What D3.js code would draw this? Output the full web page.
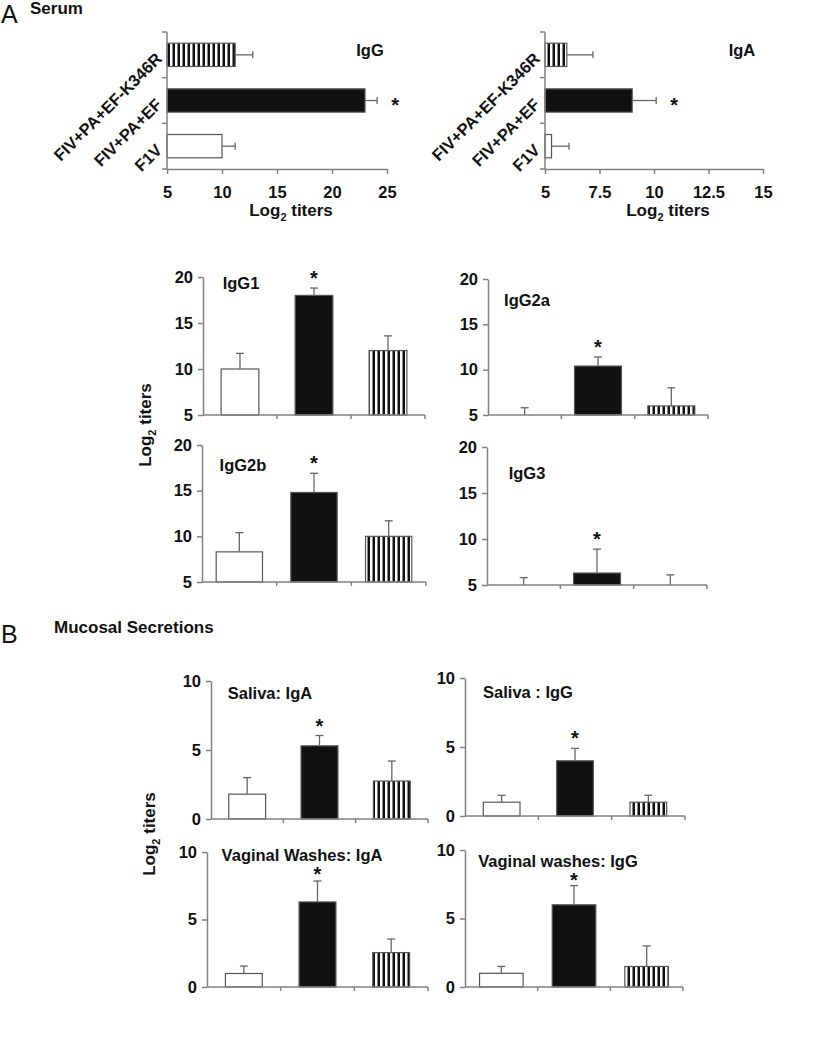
<!DOCTYPE html>
<html>
<head>
<meta charset="utf-8">
<script src="https://cdn.jsdelivr.net/npm/d3@7/dist/d3.min.js"></script>
<style>
  body { margin: 0; background: #fff; }
  svg { display: block; }
  text { font-family: "Liberation Sans", Arial, sans-serif; fill: #111; }
</style>
</head>
<body>
<svg id="chart" width="819" height="1050"></svg>
<script>
// ---------- DATA ----------
const groups = ["F1V", "FIV+PA+EF", "FIV+PA+EF-K346R"];
const fills = ["white", "black", "stripe"];

// Serum (horizontal bars), Log2 titers
const serumIgG_mean = [10, 23, 11.2];
const serumIgG_err  = [1.2, 1.1, 1.6];
const serumIgA_mean = [5.3, 9.0, 6.0];
const serumIgA_err  = [0.8, 1.1, 1.2];
const serumIgG_ticks = [5, 10, 15, 20, 25];
const serumIgA_ticks = [5, 7.5, 10, 12.5, 15];

// Serum IgG subclasses
const igG1_mean  = [10, 18, 12];
const igG1_err   = [1.7, 0.8, 1.6];
const igG2a_mean = [5, 10.4, 6.0];
const igG2a_err  = [0.8, 1.0, 2.0];
const igG2b_mean = [8.3, 14.8, 10];
const igG2b_err  = [2.1, 2.1, 1.7];
const igG3_mean  = [5, 6.3, 5];
const igG3_err   = [0.8, 2.6, 1.1];
const subclass_ticks = [5, 10, 15, 20];

// Mucosal secretions
const salivaIgA_mean = [1.8, 5.3, 2.75];
const salivaIgA_err  = [1.2, 0.75, 1.45];
const salivaIgG_mean = [1.0, 4.0, 1.0];
const salivaIgG_err  = [0.5, 0.9, 0.5];
const vagIgA_mean = [1.0, 6.3, 2.55];
const vagIgA_err  = [0.55, 1.55, 1.0];
const vagIgG_mean = [1.0, 6.0, 1.5];
const vagIgG_err  = [0.5, 1.4, 1.5];
const mucosal_ticks = [0, 5, 10];

const significant = [false, true, false];

// ---------- DRAW ----------
const svg = d3.select("#chart");
const AXIS = "#808080";
const defs = svg.append("defs");
const pat = defs.append("pattern").attr("id", "stripes").attr("patternUnits", "userSpaceOnUse")
  .attr("width", 5).attr("height", 10);
pat.append("rect").attr("width", 5).attr("height", 10).attr("fill", "white");
pat.append("rect").attr("x", 2.5).attr("width", 2.6).attr("height", 10).attr("fill", "#111");

function fillOf(k) { return k === "white" ? "white" : k === "black" ? "#111" : "url(#stripes)"; }

function T(g) { return g.append("text").style("font-weight", "bold"); }

function log2Label(g, x, y, rotate) {
  const t = T(g).attr("text-anchor", "middle").attr("font-size", 17)
    .attr("transform", `translate(${x},${y})` + (rotate ? " rotate(-90)" : ""));
  t.append("tspan").text("Log");
  t.append("tspan").attr("font-size", 11).attr("dy", 5).text("2");
  t.append("tspan").attr("dy", -5).text(" titers");
}

function styleAxis(a) {
  a.selectAll("path, line").attr("stroke", AXIS).attr("stroke-width", 1.5);
  a.selectAll("text").attr("font-size", 16.5).attr("fill", "#111")
    .attr("font-family", '"Liberation Sans", Arial, sans-serif').style("font-weight", "bold");
}

// Horizontal serum panels
function hPanel(cfg) {
  const { mean, err, ticks, x0, x1, y0, y1, title, tx, ty } = cfg;
  const x = d3.scaleLinear().domain([ticks[0], ticks[ticks.length - 1]]).range([x0, x1]);
  const order = groups.slice().reverse(); // top: K346R
  const y = d3.scaleBand().domain(order).range([y0, y1]).padding(0);
  const g = svg.append("g");
  const bh = y.bandwidth() * 0.51;
  groups.forEach((grp, i) => {
    const cy = y(grp) + y.bandwidth() / 2;
    g.append("rect").attr("x", x(ticks[0])).attr("y", cy - bh / 2)
      .attr("width", x(mean[i]) - x(ticks[0])).attr("height", bh)
      .attr("fill", fillOf(fills[i])).attr("stroke", "#555").attr("stroke-width", 1.2);
    const xe = x(mean[i] + err[i]);
    g.append("line").attr("x1", x(mean[i])).attr("x2", xe).attr("y1", cy).attr("y2", cy)
      .attr("stroke", "#666").attr("stroke-width", 1.3);
    g.append("line").attr("x1", xe).attr("x2", xe).attr("y1", cy - 3.5).attr("y2", cy + 3.5)
      .attr("stroke", "#666").attr("stroke-width", 1.3);
    if (significant[i]) {
      T(g).attr("x", xe + 18).attr("y", cy + 11).attr("text-anchor", "middle")
        .attr("font-size", 20).text("*");
    }
    T(g).attr("text-anchor", "end").attr("font-size", 16.5)
      .attr("transform", `translate(${x0 - 4},${cy + 5}) rotate(-45)`).text(grp);
  });
  // axes
  const ax = g.append("g").attr("transform", `translate(0,${y1})`)
    .call(d3.axisBottom(x).tickValues(ticks).tickSize(5).tickSizeOuter(0).tickPadding(12)
      .tickFormat(d => d3.format("~g")(d)));
  styleAxis(ax);
  const ay = g.append("g").attr("transform", `translate(${x0},0)`);
  ay.append("line").attr("x1", 0).attr("x2", 0).attr("y1", y0).attr("y2", y1).attr("stroke", AXIS).attr("stroke-width", 1.5);
  const bounds = order.map(d => y(d)).concat([y1]);
  ay.selectAll("line.t").data(bounds).join("line").attr("class", "t")
    .attr("x1", -5).attr("x2", 0).attr("y1", d => d).attr("y2", d => d).attr("stroke", AXIS).attr("stroke-width", 1.5);
  T(g).attr("x", tx).attr("y", ty + 6).attr("text-anchor", "middle").attr("font-size", 16.5).text(title);
  log2Label(g, (x0 + x1) / 2 + 14, y1 + 47, false);
}

// Vertical panels
function vPanel(cfg) {
  const { mean, err, ticks, x0, x1, y0, y1, title, tx, ty, bw } = cfg;
  const starGap = cfg.starGap === undefined ? 3 : cfg.starGap;
  const y = d3.scaleLinear().domain([ticks[0], ticks[ticks.length - 1]]).range([y1, y0]);
  const x = d3.scaleBand().domain(groups).range([x0, x1]).padding(0);
  const g = svg.append("g");
  const w = x.bandwidth() * bw;
  groups.forEach((grp, i) => {
    const cx = x(grp) + x.bandwidth() / 2;
    g.append("rect").attr("x", cx - w / 2).attr("y", y(mean[i]))
      .attr("width", w).attr("height", y(ticks[0]) - y(mean[i]))
      .attr("fill", fillOf(fills[i])).attr("stroke", "#555").attr("stroke-width", 1.2);
    const ye = y(mean[i] + err[i]);
    g.append("line").attr("x1", cx).attr("x2", cx).attr("y1", y(mean[i])).attr("y2", ye)
      .attr("stroke", "#666").attr("stroke-width", 1.3);
    g.append("line").attr("x1", cx - 4).attr("x2", cx + 4).attr("y1", ye).attr("y2", ye)
      .attr("stroke", "#666").attr("stroke-width", 1.3);
    if (significant[i]) {
      T(g).attr("x", cx).attr("y", ye - starGap).attr("text-anchor", "middle")
        .attr("font-size", 20).text("*");
    }
  });
  const ay = g.append("g").attr("transform", `translate(${x0},0)`)
    .call(d3.axisLeft(y).tickValues(ticks).tickSize(5).tickSizeOuter(0).tickPadding(5));
  styleAxis(ay);
  const axg = g.append("g");
  axg.append("line").attr("x1", x0).attr("x2", x1).attr("y1", y1).attr("y2", y1).attr("stroke", AXIS).attr("stroke-width", 1.5);
  axg.selectAll("line.t").data(groups).join("line").attr("class", "t")
    .attr("x1", d => x(d) + x.bandwidth()).attr("x2", d => x(d) + x.bandwidth())
    .attr("y1", y1).attr("y2", y1 + 4).attr("stroke", AXIS).attr("stroke-width", 1.5);
  T(g).attr("x", tx).attr("y", ty + 6).attr("text-anchor", "middle").attr("font-size", 16.5).text(title);
}

// Section labels
svg.append("text").attr("x", 1).attr("y", 23).attr("font-size", 25).style("font-weight", "normal").text("A");
T(svg).attr("x", 30).attr("y", 14).attr("font-size", 17).text("Serum");
svg.append("text").attr("x", 1).attr("y", 643).attr("font-size", 25).style("font-weight", "normal").text("B");
T(svg).attr("x", 54).attr("y", 633).attr("font-size", 17).text("Mucosal Secretions");

hPanel({ mean: serumIgG_mean, err: serumIgG_err, ticks: serumIgG_ticks, x0: 167, x1: 387, y0: 32, y1: 169, title: "IgG", tx: 370, ty: 50 });
hPanel({ mean: serumIgA_mean, err: serumIgA_err, ticks: serumIgA_ticks, x0: 545, x1: 763, y0: 32, y1: 169, title: "IgA", tx: 742, ty: 50 });

vPanel({ mean: igG1_mean, err: igG1_err, ticks: subclass_ticks, x0: 203, x1: 425, y0: 277, y1: 415, title: "IgG1", tx: 241, ty: 283, bw: 0.51 });
vPanel({ mean: igG2a_mean, err: igG2a_err, ticks: subclass_ticks, x0: 488, x1: 708, y0: 279, y1: 415, title: "IgG2a", tx: 527, ty: 300, bw: 0.64 });
vPanel({ mean: igG2b_mean, err: igG2b_err, ticks: subclass_ticks, x0: 202, x1: 426, y0: 445, y1: 582, title: "IgG2b", tx: 243, ty: 465, bw: 0.62 });
vPanel({ mean: igG3_mean, err: igG3_err, ticks: subclass_ticks, x0: 487, x1: 707, y0: 447, y1: 585, title: "IgG3", tx: 527, ty: 473, bw: 0.64 });
log2Label(svg, 151, 425, true);

vPanel({ mean: salivaIgA_mean, err: salivaIgA_err, ticks: mucosal_ticks, x0: 211, x1: 428, y0: 681, y1: 819, title: "Saliva: IgA", tx: 270, ty: 693, bw: 0.51 });
vPanel({ mean: salivaIgG_mean, err: salivaIgG_err, ticks: mucosal_ticks, x0: 465, x1: 685, y0: 678, y1: 816, title: "Saliva : IgG", tx: 528, ty: 692, bw: 0.5 });
vPanel({ mean: vagIgA_mean, err: vagIgA_err, ticks: mucosal_ticks, x0: 207, x1: 428, y0: 852, y1: 987, title: "Vaginal Washes: IgA", tx: 302, ty: 855, bw: 0.5, starGap: 0 });
vPanel({ mean: vagIgG_mean, err: vagIgG_err, ticks: mucosal_ticks, x0: 465, x1: 683, y0: 850, y1: 987, title: "Vaginal washes: IgG", tx: 558, ty: 861, bw: 0.6, starGap: -1 });
log2Label(svg, 155, 834, true);
</script>
</body>
</html>
